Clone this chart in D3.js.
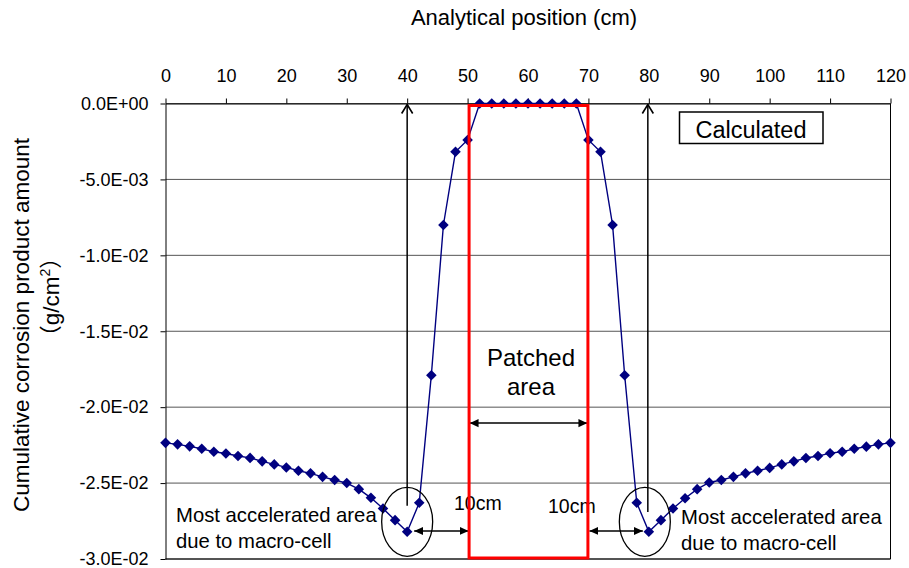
<!DOCTYPE html>
<html>
<head>
<meta charset="utf-8">
<script src="https://cdn.jsdelivr.net/npm/d3@7"></script>
<style>
  body { margin: 0; background: #fff; }
  text { font-family: "Liberation Sans", Arial, "Noto Sans CJK JP", sans-serif; fill: #000; }
</style>
</head>
<body>
<div class="chart"></div>
<script>
// analytical position (cm)
var positions = [0, 2, 4, 6, 8, 10, 12, 14, 16, 18, 20, 22, 24, 26, 28, 30, 32, 34, 36, 38, 40,
  42, 44, 46, 48, 50, 52, 54, 56, 58, 60, 62, 64, 66, 68, 70, 72, 74, 76, 78, 80,
  82, 84, 86, 88, 90, 92, 94, 96, 98, 100, 102, 104, 106, 108, 110, 112, 114, 116, 118, 120];

// cumulative corrosion product amount (g/cm2), calculated
var corrosion = [-0.02235, -0.02245, -0.02258, -0.02274, -0.02294, -0.02305, -0.02322, -0.02334,
  -0.02357, -0.02377, -0.02397, -0.02419, -0.02436, -0.02459, -0.02480, -0.02500, -0.02540,
  -0.02597, -0.02667, -0.02744, -0.02821, -0.02630, -0.01790, -0.00800, -0.00318, -0.00240,
  0, 0, 0, 0, 0, 0, 0, 0, 0,
  -0.00240, -0.00318, -0.00800, -0.01790, -0.02630, -0.02821, -0.02744, -0.02667, -0.02600,
  -0.02540, -0.02496, -0.02480, -0.02459, -0.02436, -0.02419, -0.02400, -0.02377, -0.02357,
  -0.02335, -0.02322, -0.02303, -0.02294, -0.02274, -0.02260, -0.02245, -0.02235];

var xTicks = [0, 10, 20, 30, 40, 50, 60, 70, 80, 90, 100, 110, 120];
var yTicks = [0, -0.005, -0.01, -0.015, -0.02, -0.025, -0.03];

var svgWidth = 909;
var svgHeight = 568;

var plot = { left: 165.5, right: 890.5, top: 103.5, bottom: 559 };

var svg = d3.select(".chart")
  .append("svg")
  .attr("width", svgWidth)
  .attr("height", svgHeight);

var xScale = d3.scaleLinear().domain([0, 120]).range([plot.left, plot.right]);
var yScale = d3.scaleLinear().domain([-0.03, 0]).range([plot.bottom, plot.top]);

// excel style 0.0E+00 labels
function sciFormat(v) {
  var parts = v.toExponential(1).split("e");
  var e = +parts[1];
  var sign = e < 0 ? "-" : "+";
  e = Math.abs(e);
  return parts[0].toUpperCase() + "E" + sign + (e < 10 ? "0" + e : e);
}

// arrow heads
var defs = svg.append("defs");
defs.append("marker")
  .attr("id", "head")
  .attr("viewBox", "0 -5 10 10")
  .attr("refX", 10).attr("refY", 0)
  .attr("markerUnits", "userSpaceOnUse")
  .attr("markerWidth", 9).attr("markerHeight", 9)
  .attr("orient", "auto-start-reverse")
  .append("path")
  .attr("d", "M0,-4.5L10,0L0,4.5Z")
  .attr("fill", "#000");

defs.append("marker")
  .attr("id", "chevron")
  .attr("viewBox", "-1 -7 12 14")
  .attr("refX", 10).attr("refY", 0)
  .attr("markerUnits", "userSpaceOnUse")
  .attr("markerWidth", 12).attr("markerHeight", 14)
  .attr("orient", "auto")
  .append("path")
  .attr("d", "M1,-5.5L10,0L1,5.5")
  .attr("fill", "none")
  .attr("stroke", "#000")
  .attr("stroke-width", 1.6);

// gridlines
svg.append("g")
  .selectAll("line")
  .data(yTicks)
  .enter()
  .append("line")
  .attr("x1", plot.left)
  .attr("x2", plot.right)
  .attr("y1", d => yScale(d))
  .attr("y2", d => yScale(d))
  .attr("stroke", "#555")
  .attr("stroke-width", 1);

// right border
svg.append("line")
  .attr("x1", plot.right).attr("x2", plot.right)
  .attr("y1", plot.top).attr("y2", plot.bottom)
  .attr("stroke", "#000");

// top axis
var topAxis = d3.axisTop(xScale)
  .tickValues(xTicks)
  .tickSize(5)
  .tickSizeOuter(0)
  .tickPadding(17);

var xAxis = svg.append("g")
  .attr("transform", `translate(0, ${plot.top})`)
  .call(topAxis);

// left axis
var leftAxis = d3.axisLeft(yScale)
  .tickValues(yTicks)
  .tickFormat(sciFormat)
  .tickSize(5)
  .tickSizeOuter(0)
  .tickPadding(12);

var yAxis = svg.append("g")
  .attr("transform", `translate(${plot.left}, 0)`)
  .call(leftAxis);

svg.selectAll(".tick text")
  .attr("font-family", null)
  .attr("font-size", 18)
  .attr("fill", "#000");
svg.selectAll(".domain, .tick line").attr("stroke", "#000");

// bottom border
svg.append("line")
  .attr("x1", plot.left).attr("x2", plot.right)
  .attr("y1", plot.bottom).attr("y2", plot.bottom)
  .attr("stroke", "#000");

// axis titles
svg.append("text")
  .attr("x", 524)
  .attr("y", 25)
  .attr("text-anchor", "middle")
  .attr("font-size", 22)
  .text("Analytical position (cm)");

svg.append("text")
  .attr("transform", "translate(29, 325) rotate(-90)")
  .attr("text-anchor", "middle")
  .attr("font-size", 22.5)
  .text("Cumulative corrosion product amount");

var unit = svg.append("text")
  .attr("transform", "translate(59, 297) rotate(-90)")
  .attr("text-anchor", "middle")
  .attr("font-size", 22.5);
unit.append("tspan").text("（g/cm");
unit.append("tspan").attr("font-size", 14).attr("dy", -9).text("2");
unit.append("tspan").attr("dy", 9).text("）");

// series
var lineData = positions.map((p, i) => ({ x: p, y: corrosion[i] }));

var line = d3.line()
  .x(d => xScale(d.x))
  .y(d => yScale(d.y));

svg.append("path")
  .datum(lineData)
  .attr("d", line)
  .attr("fill", "none")
  .attr("stroke", "#000080")
  .attr("stroke-width", 1.4);

svg.append("g")
  .selectAll("path")
  .data(lineData)
  .enter()
  .append("path")
  .attr("d", d3.symbol(d3.symbolSquare, 56))
  .attr("transform", d => `translate(${xScale(d.x)}, ${yScale(d.y)}) rotate(45)`)
  .attr("fill", "#000080");

// annotations
var notes = svg.append("g");

// vertical arrows at the macro-cell spots
notes.append("line")
  .attr("x1", xScale(40)).attr("x2", xScale(40))
  .attr("y1", yScale(-0.0265)).attr("y2", yScale(0) + 1)
  .attr("stroke", "#000").attr("stroke-width", 1.5)
  .attr("marker-end", "url(#chevron)");

notes.append("line")
  .attr("x1", xScale(80) - 1).attr("x2", xScale(80) - 1)
  .attr("y1", yScale(-0.0269)).attr("y2", yScale(0) + 1)
  .attr("stroke", "#000").attr("stroke-width", 1.5)
  .attr("marker-end", "url(#chevron)");

// circles round the deepest points
notes.append("ellipse")
  .attr("cx", xScale(40)).attr("cy", yScale(-0.02755))
  .attr("rx", 25.5).attr("ry", 34.5)
  .attr("fill", "none").attr("stroke", "#000").attr("stroke-width", 1.3);

notes.append("ellipse")
  .attr("cx", xScale(80) - 4).attr("cy", yScale(-0.02755))
  .attr("rx", 25.5).attr("ry", 34.5)
  .attr("fill", "none").attr("stroke", "#000").attr("stroke-width", 1.3);

// double arrows
function doubleArrow(x1, x2, y) {
  notes.append("line")
    .attr("x1", x1).attr("x2", x2)
    .attr("y1", y).attr("y2", y)
    .attr("stroke", "#000").attr("stroke-width", 1.5)
    .attr("marker-start", "url(#head)")
    .attr("marker-end", "url(#head)");
}
doubleArrow(xScale(50) + 2, xScale(70) - 1, yScale(-0.02105));
doubleArrow(xScale(40) + 7, xScale(50) + 1, yScale(-0.02815));
doubleArrow(xScale(70) + 1, xScale(80) - 6, yScale(-0.02815));

// labels
notes.append("text").attr("x", 454).attr("y", 510).attr("font-size", 19.5).text("10cm");
notes.append("text").attr("x", 548).attr("y", 513).attr("font-size", 19.5).text("10cm");

notes.append("text").attr("x", xScale(60) + 3).attr("y", 366)
  .attr("text-anchor", "middle").attr("font-size", 24).text("Patched");
notes.append("text").attr("x", xScale(60) + 3).attr("y", 395)
  .attr("text-anchor", "middle").attr("font-size", 24).text("area");

notes.append("text").attr("x", 176).attr("y", 522).attr("font-size", 20.3).text("Most accelerated area");
notes.append("text").attr("x", 176).attr("y", 547.5).attr("font-size", 20.3).text("due to macro-cell");
notes.append("text").attr("x", 681).attr("y", 524).attr("font-size", 20.3).text("Most accelerated area");
notes.append("text").attr("x", 681).attr("y", 550).attr("font-size", 20.3).text("due to macro-cell");

// legend box
notes.append("rect")
  .attr("x", 679.5).attr("y", 112)
  .attr("width", 143.5).attr("height", 31.5)
  .attr("fill", "#fff").attr("stroke", "#000").attr("stroke-width", 1.5);
notes.append("text").attr("x", 751).attr("y", 138)
  .attr("text-anchor", "middle").attr("font-size", 23.5).text("Calculated");

// patched area frame
svg.append("rect")
  .attr("x", xScale(50) + 1.5)
  .attr("y", yScale(0) + 2)
  .attr("width", xScale(70) - xScale(50) - 2)
  .attr("height", yScale(-0.03) - yScale(0) - 3)
  .attr("fill", "none")
  .attr("stroke", "#ff0000")
  .attr("stroke-width", 3);
</script>
</body>
</html>
